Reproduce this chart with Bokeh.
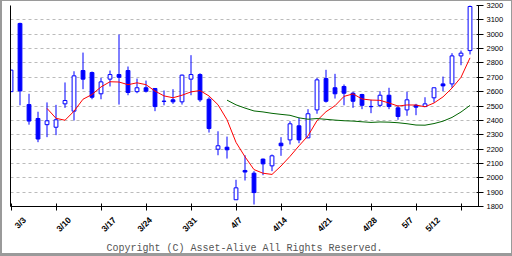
import numpy as np
from math import pi
from bokeh.plotting import figure
from bokeh.models import (ColumnDataSource, LinearAxis, FixedTicker, Grid, Range1d,
                          Title, CustomJSTickFormatter)
from bokeh.embed import file_html
from bokeh.resources import INLINE

dates = ["3/3", "3/4", "3/5", "3/6", "3/7", "3/10", "3/11", "3/12", "3/13", "3/14",
         "3/17", "3/18", "3/19", "3/20", "3/24", "3/25", "3/26", "3/27", "3/28",
         "3/31", "4/1", "4/2", "4/3", "4/4", "4/7", "4/8", "4/9", "4/10", "4/11",
         "4/14", "4/15", "4/16", "4/17", "4/18", "4/21", "4/22", "4/23", "4/24", "4/25",
         "4/28", "4/30", "5/1", "5/2", "5/7", "5/8", "5/9",
         "5/12", "5/13", "5/14", "5/15", "5/16", "5/19"]
opens = [2600, 3075, 2510, 2413, 2370, 2352, 2515, 2464, 2747, 2733, 2585, 2687, 2719,
         2747, 2600, 2627, 2622, 2534, 2543, 2529, 2687, 2719, 2547, 2199, 2213, 1847,
         2051, 2032, 2130, 2083, 2241, 2264, 2362, 2278, 2473, 2691, 2627, 2636, 2589,
         2580, 2497, 2505, 2575, 2487, 2473, 2505, 2496, 2557, 2654, 2654, 2849, 2886]
highs = [2752, 3080, 2585, 2460, 2525, 2508, 2664, 2742, 2872, 2740, 2696, 2747, 2998,
         2775, 2691, 2677, 2622, 2608, 2617, 2719, 2854, 2728, 2561, 2324, 2287, 1986,
         2157, 2046, 2134, 2162, 2283, 2394, 2418, 2478, 2696, 2752, 2724, 2650, 2599,
         2585, 2543, 2603, 2627, 2505, 2599, 2515, 2561, 2627, 2705, 2868, 2886, 3202]
lows = [2598, 2505, 2370, 2248, 2283, 2297, 2487, 2399, 2617, 2547, 2547, 2636, 2510,
        2575, 2589, 2594, 2464, 2505, 2515, 2510, 2575, 2529, 2315, 2157, 2134, 1847,
        1981, 1814, 2018, 2046, 2153, 2232, 2241, 2278, 2446, 2524, 2552, 2505, 2487,
        2478, 2450, 2492, 2478, 2404, 2432, 2436, 2496, 2524, 2603, 2627, 2784, 2859]
closes = [2750, 2605, 2395, 2270, 2397, 2404, 2538, 2710, 2687, 2561, 2668, 2719, 2700,
          2594, 2627, 2603, 2496, 2532, 2529, 2715, 2719, 2543, 2343, 2223, 2195, 1930,
          2040, 1897, 2097, 2153, 2223, 2376, 2264, 2446, 2682, 2533, 2585, 2589, 2533,
          2505, 2495, 2575, 2496, 2427, 2543, 2492, 2515, 2627, 2640, 2849, 2868, 3193]
week_labels = ["3/3", "3/10", "3/17", "3/24", "3/31", "4/7", "4/14", "4/21", "4/28",
               "5/7", "5/12"]
y_ticks = [1800, 1900, 2000, 2100, 2200, 2300, 2400, 2500, 2600, 2700, 2800, 2900,
           3000, 3100, 3200]

n = len(dates)
idx = np.arange(n)
o = np.array(opens, float)
c = np.array(closes, float)
up = c >= o

def ma(vals, k):
    return np.convolve(vals, np.ones(k) / k, mode="valid")

ma5 = ma(c, 5)
ma25 = ma(c, 25)

BLUE = "#0000ff"
p = figure(width=512, height=256, x_range=Range1d(-0.056, 51.944),
           y_range=Range1d(1800, 3200), x_axis_type=None, y_axis_type=None,
           toolbar_location=None, output_backend="svg",
           min_border_left=8, min_border_right=36, min_border_top=4,
           min_border_bottom=51)
p.outline_line_color = None
p.background_fill_color = "white"
p.border_fill_color = "white"
p.styles = {"border-style": "solid", "border-color": "#9a9a9a",
            "border-width": "1px 1px 3px 2px"}

# grid
p.add_layout(Grid(dimension=1, ticker=FixedTicker(ticks=y_ticks),
                  grid_line_color="#bbbbbb", grid_line_dash="3 3",
                  grid_line_width=1))

src = ColumnDataSource(dict(x=idx, o=o, c=c, h=np.array(highs, float),
                            l=np.array(lows, float),
                            top=np.maximum(o, c), bot=np.minimum(o, c),
                            fill=np.where(up, "white", BLUE)))
p.segment(x0="x", y0="h", x1="x", y1="l", source=src, line_color=BLUE, line_width=1)
p.vbar(x="x", width=0.42, top="top", bottom="bot", source=src,
       fill_color="fill", line_color=BLUE, line_width=1)

p.line(idx[4:], ma5, line_color="#ff0000", line_width=1)
p.line(idx[24:], ma25, line_color="#006400", line_width=1)

# left axis (line only)
la = LinearAxis(ticker=FixedTicker(ticks=[]), axis_line_color="black",
                major_tick_in=0, major_tick_out=0, minor_tick_in=0, minor_tick_out=0,
                major_label_text_font_size="0px", major_label_standoff=0)
p.add_layout(la, "left")

# right axis
ra = LinearAxis(ticker=FixedTicker(ticks=y_ticks), axis_line_color="black",
                major_tick_in=2, major_tick_out=5, minor_tick_in=0, minor_tick_out=0,
                major_tick_line_color="black", major_label_standoff=3,
                major_label_text_font="Liberation Sans",
                major_label_text_font_size="7.5px", major_label_text_color="black")
p.add_layout(ra, "right")

# bottom axis: minor ticks every 5 sessions, labels at week starts
lab_pos = [dates.index(w) + 1.5 for w in week_labels]
fmt = CustomJSTickFormatter(args=dict(pos=lab_pos, labs=week_labels), code="""
    let best = -1;
    for (let i = 0; i < pos.length; i++) { if (Math.abs(pos[i] - tick) < 0.01) best = i; }
    return best >= 0 ? labs[best] : '';
""")
ba = LinearAxis(ticker=FixedTicker(ticks=lab_pos, minor_ticks=list(range(0, n, 5))),
                formatter=fmt, axis_line_color="black",
                major_tick_in=0, major_tick_out=0,
                minor_tick_in=3, minor_tick_out=4, minor_tick_line_color="black",
                major_label_orientation=pi / 4, major_label_standoff=8,
                major_label_text_font="Liberation Sans",
                major_label_text_font_size="8.5px", major_label_text_font_style="bold",
                major_label_text_color="black")
p.add_layout(ba, "below")

p.add_layout(Title(text="Copyright (C) Asset-Alive All Rights Reserved.",
                   align="center", offset=11, text_font="Liberation Mono",
                   text_font_size="10px", text_font_style="normal",
                   text_color="#555555", standoff=0), "below")

open("out.html", "w").write(file_html(p, INLINE))
